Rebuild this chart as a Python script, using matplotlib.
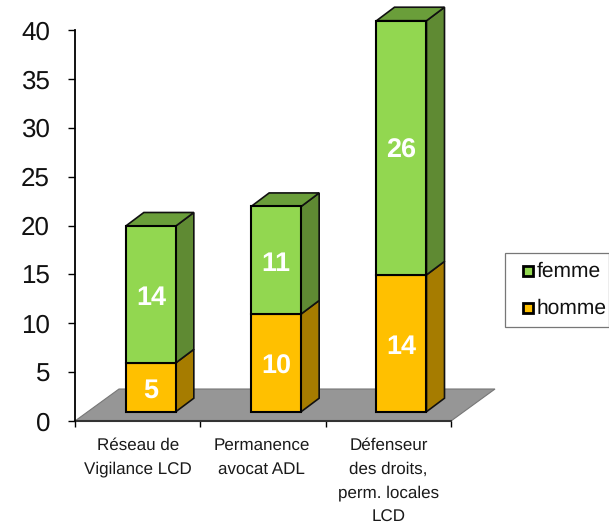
import matplotlib
matplotlib.use("Agg")
import matplotlib.pyplot as plt
from matplotlib.patches import Polygon, Rectangle

categories = ["Réseau de\nVigilance LCD", "Permanence\navocat ADL", "Défenseur\ndes droits,\nperm. locales\nLCD"]
homme = [5, 10, 14]
femme = [14, 11, 26]
yticks = [0, 5, 10, 15, 20, 25, 30, 35, 40]

W, H = 609, 528
plt.rcParams['font.family'] = ['Liberation Sans', 'DejaVu Sans']
plt.rcParams['text.hinting'] = 'no_hinting'
plt.rcParams['text.hinting_factor'] = 1
fig = plt.figure(figsize=(W/100, H/100), dpi=100)
L, R, T, B = 75, 451, 30, 421
ax = fig.add_axes([L/W, 1-B/H, (R-L)/W, (B-T)/H])
ax.set_xlim(0, 3)
ax.set_ylim(0, 40)
ax.patch.set_visible(False)
for s in ['top', 'right']:
    ax.spines[s].set_visible(False)
ax.spines['left'].set_linewidth(1.3)
ax.spines['bottom'].set_linewidth(1.5)
ax.spines['bottom'].set_color('#333333')
ax.spines['bottom'].set_zorder(2)
ax.set_yticks(yticks)
ax.set_yticklabels([str(v) for v in yticks], fontsize=19, color='#111111')
ax.tick_params(axis='y', length=5, width=1, pad=13)
ax.set_xticks([0, 1, 2, 3])
ax.set_xticklabels([])
ax.tick_params(axis='x', length=4, width=1)
label_x = [0.5, 1.49, 2.5]
for x, c in zip(label_x, categories):
    ax.text(x, -1.7, c, ha='center', va='top', fontsize=12.6, linespacing=1.65, color='#1a1a1a')

px_x = 3/(R-L)
px_y = 40/(B-T)
dx, dy = 44*px_x, 32*px_y
bdx, bdy = 18*px_x, 13.5*px_y

ax.add_patch(Polygon([(0, 0), (3, 0), (3+dx, dy), (dx, dy)], closed=True, fc='#969696', ec='#777777', lw=0.8, zorder=1, clip_on=False))

GREEN = ('#92d750', '#6a9e3a', '#5f8a33')
ORANGE = ('#ffc000', '#d99a00', '#a67c00')
barw = 50*px_x
for i, (h, f) in enumerate(zip(homme, femme)):
    x0 = i + 0.5 - barw/2 + 0.105
    base = 0.95
    def seg(b, t, cols):
        ax.add_patch(Polygon([(x0+barw, b), (x0+barw+bdx, b+bdy), (x0+barw+bdx, t+bdy), (x0+barw, t)], closed=True, fc=cols[2], ec='#111111', lw=1.2, zorder=3, clip_on=False))
        ax.add_patch(Rectangle((x0, b), barw, t-b, fc=cols[0], ec='black', lw=1.5, zorder=4, clip_on=False))
    seg(base, base+h, ORANGE)
    seg(base+h, base+h+f, GREEN)
    top = base+h+f
    ax.add_patch(Polygon([(x0, top), (x0+barw, top), (x0+barw+bdx, top+bdy), (x0+bdx, top+bdy)], closed=True, fc=GREEN[1], ec='#111111', lw=1.2, zorder=3, clip_on=False))
    ax.text(x0+barw/2, base+h/2-0.35, str(h), color='white', fontsize=19.5, fontweight='bold', ha='center', va='center', zorder=5)
    ax.text(x0+barw/2, base+h+f/2-0.35, str(f), color='white', fontsize=19.5, fontweight='bold', ha='center', va='center', zorder=5)

fig.patches.append(Rectangle((505/W, 1-327/H), 104/W, 74/H, transform=fig.transFigure, fc='white', ec='#777777', lw=0.9))
for yy, col, lab in [(271, GREEN[0], 'femme'), (308, ORANGE[0], 'homme')]:
    fig.patches.append(Rectangle((522.5/W, 1-(yy+5)/H), 10/W, 10/H, transform=fig.transFigure, fc=col, ec='black', lw=2))
    fig.text(536.5/W, 1-yy/H, lab, fontsize=15.2, va='center', ha='left', color='#111111')

fig.savefig('out.png', dpi=100)
